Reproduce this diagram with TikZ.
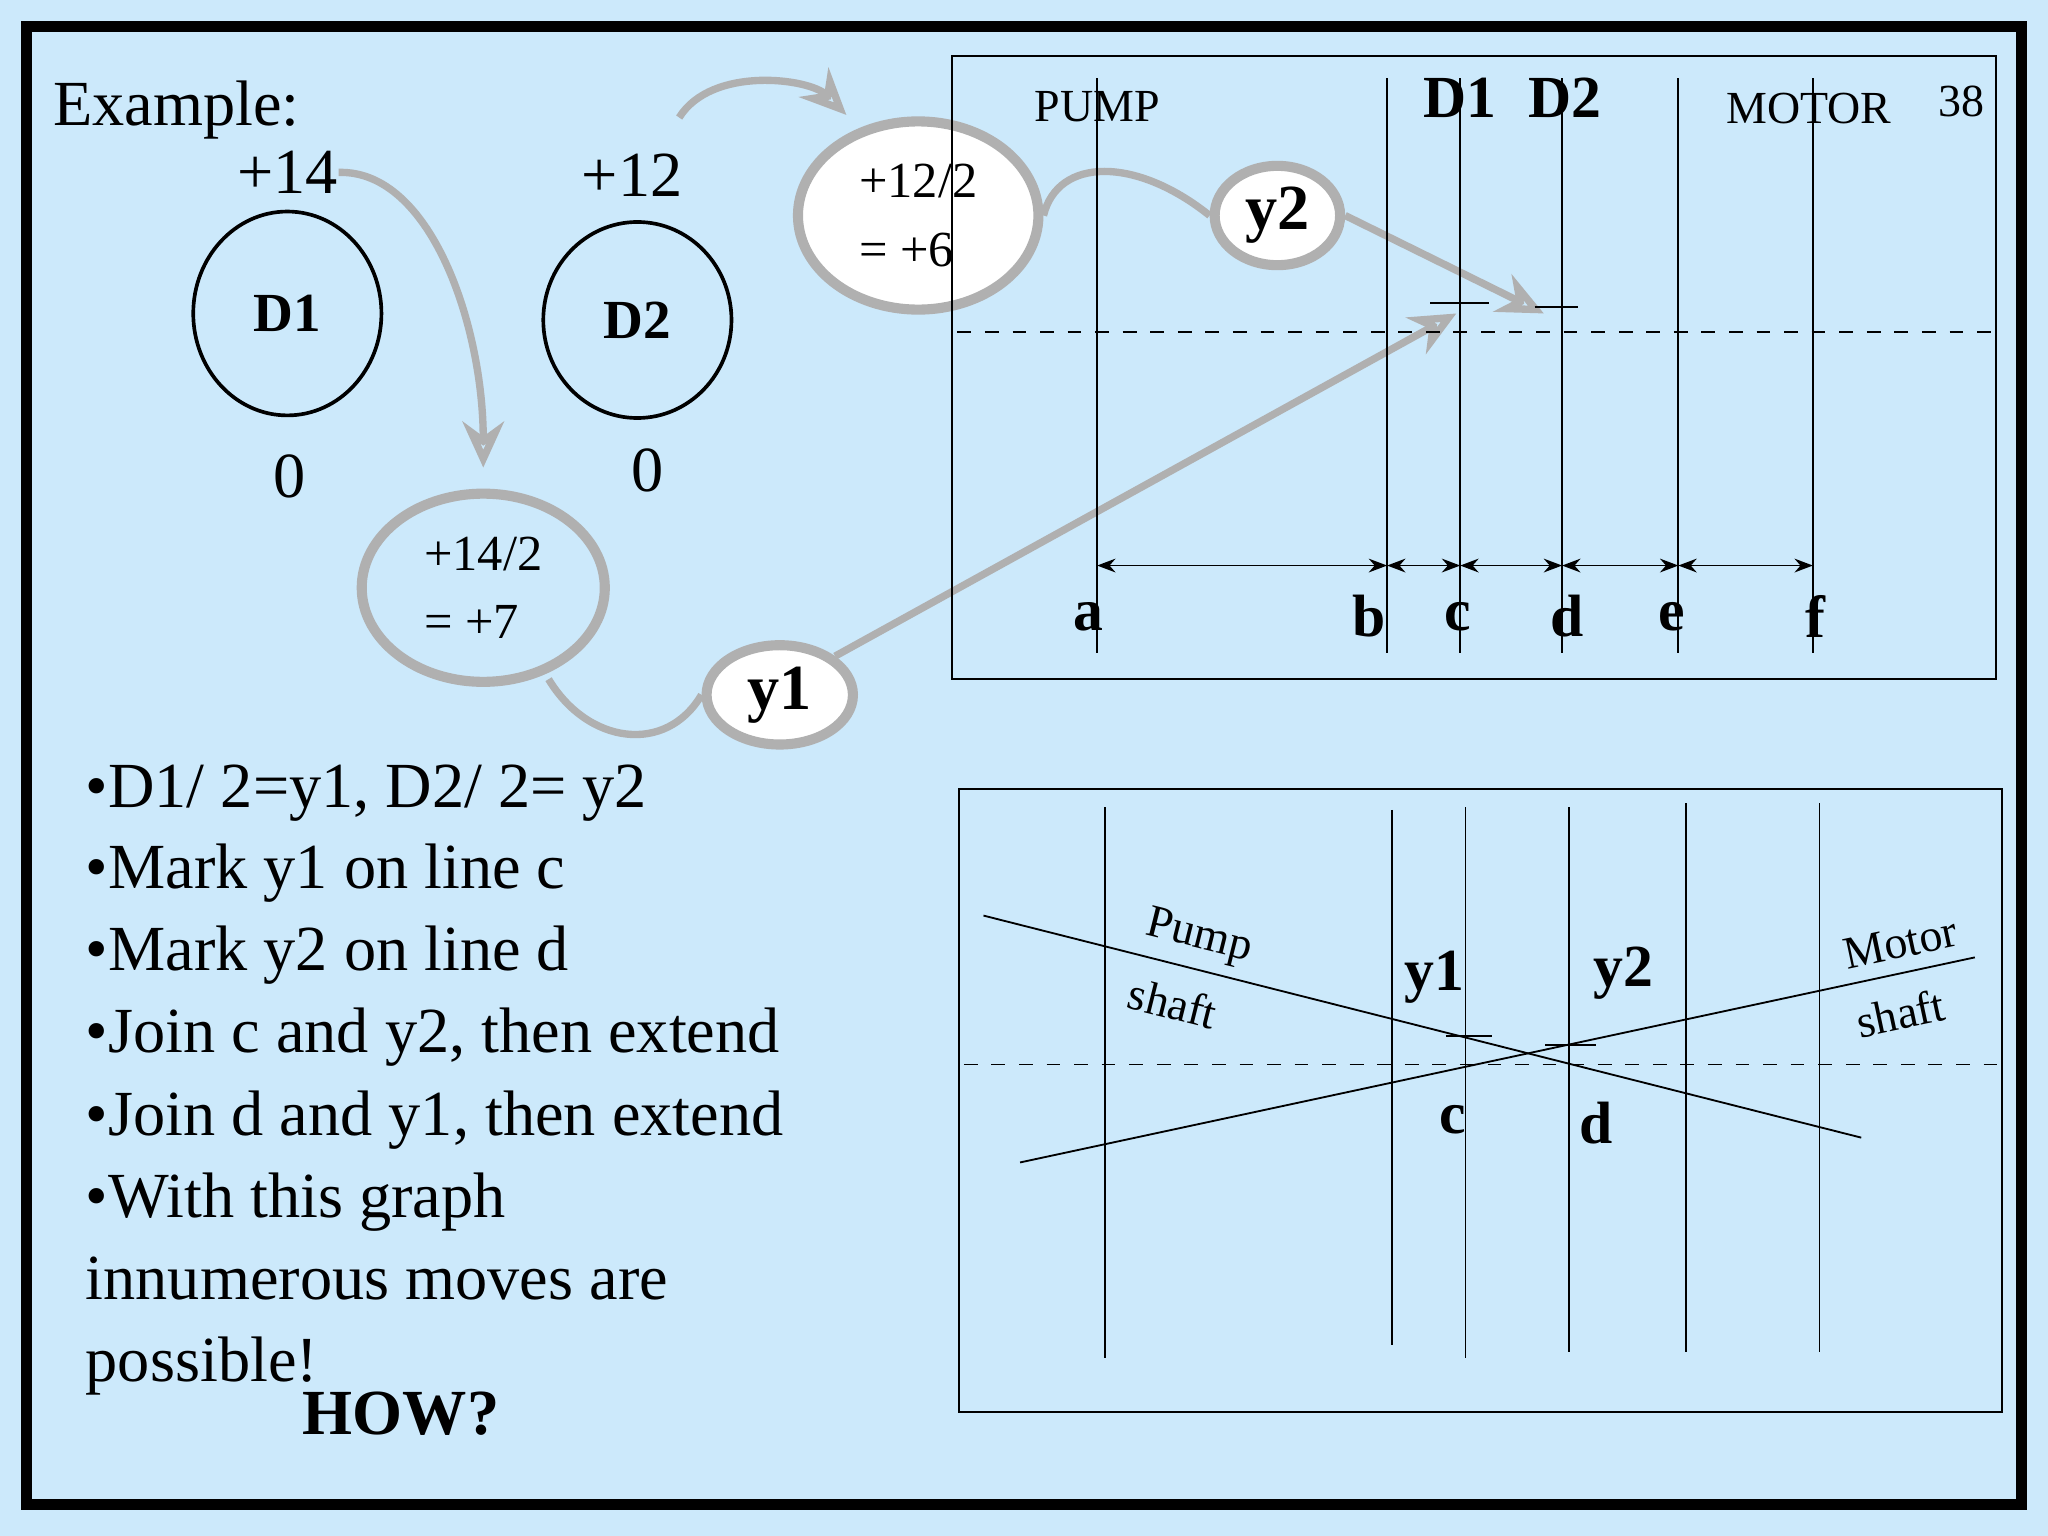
\documentclass[tikz,border=0pt]{standalone}
\usepackage{fontspec}
\setmainfont{Liberation Serif}
\usetikzlibrary{arrows.meta,shapes.geometric}
\definecolor{bg}{HTML}{CCE9FB}
\definecolor{gr}{HTML}{B0B0B0}
\begin{document}
\begin{tikzpicture}[x=0.01cm,y=-0.01cm,
  ell/.style={ellipse,draw,thick,inner sep=0pt,minimum width=1.44cm,minimum height=1.56cm,font=\fontsize{12}{14}\selectfont\bfseries},
  gell/.style={ellipse,draw=gr,line width=2.2pt,inner sep=0pt,align=left,font=\fontsize{11}{15}\selectfont},
  garr/.style={draw=gr,line width=1.6pt,-{Stealth[open,length=10pt,width=9pt]}},
  gln/.style={draw=gr,line width=1.6pt},
  big/.style={inner sep=0pt,font=\fontsize{14}{17}\selectfont},
  lab/.style={inner sep=0pt,font=\fontsize{13}{15}\selectfont\bfseries},
  sm/.style={inner sep=0pt,font=\fontsize{10}{12}\selectfont},
  dim/.style={{Stealth[length=4pt,width=3pt]}-{Stealth[length=4pt,width=3pt]},thin}]
\fill[bg] (0,0) rectangle (1568,1176);
\useasboundingbox (0,0) rectangle (1568,1176);
\draw[line width=2.4pt] (20,20) rectangle (1548,1152);
\node[big,anchor=base west] (ex) at (40,96) {Example:};
\node[ell] (d1) at (220,240) {D1};
\node[ell,minimum height=1.5cm] (d2) at (488,245) {D2};
\node[big] (p14) at (220,132) {+14};
\node[big] (p12) at (484,134) {+12};
\node[big] (z1) at (222,365) {0};
\node[big] (z2) at (496,360) {0};
\node[gell,minimum width=1.86cm,minimum height=1.44cm] (h7) at (370,450) {+14/2\\= +7};
\node[gell,fill=white,minimum width=1.84cm,minimum height=1.44cm] (h6) at (703,165) {+12/2\\= +6};
\node[gell,fill=white,minimum width=0.96cm,minimum height=0.76cm,font=\fontsize{14}{16}\selectfont\bfseries] (y2) at (978,165) {y2};
\node[gell,fill=white,minimum width=1.12cm,minimum height=0.76cm,font=\fontsize{14}{16}\selectfont\bfseries] (y1) at (597,532) {y1};
\coordinate (cy1) at (1115,240);
\coordinate (cy2) at (1182,240);
\draw[garr] (p14.east) .. controls (330,130) and (370,250) .. (370,358);
\draw[garr] (520,90) .. controls (545,50) and (620,60) .. (648,88);
\draw[gln] (420,520) .. controls (450,570) and (510,578) .. (y1.west);
\draw[gln] (h6.east) .. controls (810,120) and (870,120) .. (y2.west);
\draw[garr] (y2.east) -- (cy2);
\draw[garr] (y1.north east) -- (cy1);
% top box
\draw[thin] (729,43) rectangle (1528,520);
\draw[dashed] (733,254) -- (1528,254);
\foreach \n/\x in {a/840,b/1062,c/1118,d/1196,e/1285,f/1388}{
  \draw (\x,60) -- (\x,500);
  \coordinate (t\n) at (\x,433);}
\draw[dim] (ta) -- (tb); \draw[dim] (tb) -- (tc); \draw[dim] (tc) -- (td);
\draw[dim] (td) -- (te); \draw[dim] (te) -- (tf);
\foreach \n/\x in {a/833,b/1048,c/1116,d/1200,e/1280,f/1390}
  \node[lab] (l\n) at (\x,472) {\n};
\node[sm] (pump) at (840,82) {PUMP};
\node[lab] (D1t) at (1118,75) {D1};
\node[lab] (D2t) at (1198,75) {D2};
\node[sm] (motor) at (1385,83) {MOTOR};
\node[sm] (n38) at (1502,78) {38};
\draw (1095,232) -- (1140,232);
\draw (1175,235) -- (1208,235);
% bottom box
\draw[thin] (734,604) rectangle (1533,1081);
\draw[dashed] (738,815) -- (1533,815);
\draw (846,618) -- (846,1040);
\draw (1066,620) -- (1066,1030);
\draw (1122,618) -- (1122,1040);
\draw (1201,618) -- (1201,1035);
\draw (1291,615) -- (1291,1035);
\draw (1393,615) -- (1393,1035);
\draw (753,701) -- (1425,871);
\draw (781,890) -- (1512,733);
\node[sm,rotate=-14] (pu) at (918,718) {Pump};
\node[sm,rotate=-14] (sh1) at (898,768) {shaft};
\node[sm,rotate=12] (mo) at (1455,722) {Motor};
\node[sm,rotate=12] (sh2) at (1455,776) {shaft};
\node[lab] (by1) at (1098,748) {y1};
\node[lab] (by2) at (1243,745) {y2};
\node[lab] (bc) at (1112,857) {c};
\node[lab] (bd) at (1222,860) {d};
\draw (1107,793) -- (1142,793);
\draw (1183,800) -- (1222,800);
% text
\foreach \t/\y in {{•D1/ 2=y1, D2/ 2= y2}/618,{•Mark y1 on line c}/680,{•Mark y2 on line d}/743,{•Join c and y2, then extend}/806,{•Join d and y1, then extend}/869,{•With this graph}/932,{innumerous moves are}/995,{possible!}/1058}
  \node[big,anchor=base west] at (65,\y) {\t};
\node[big,font=\fontsize{14}{17}\selectfont\bfseries] (how) at (307,1082) {HOW?};
\end{tikzpicture}
\end{document}
